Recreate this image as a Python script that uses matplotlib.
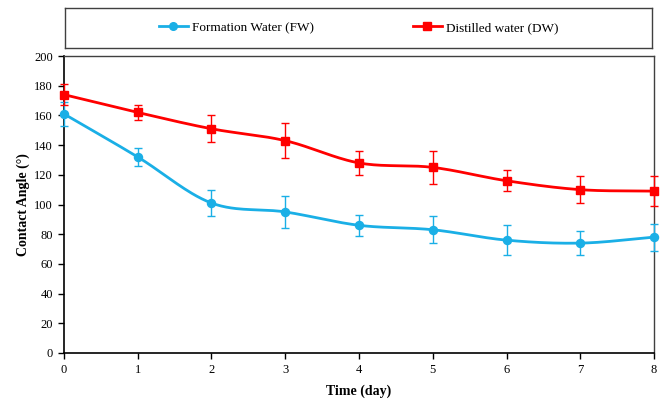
import numpy as np
import matplotlib
matplotlib.use("Agg")
import matplotlib.pyplot as plt
from matplotlib.lines import Line2D

days = [0, 1, 2, 3, 4, 5, 6, 7, 8]
fw_vals = [161, 132, 101, 95, 86, 83, 76, 74, 78]
fw_err = [8, 6, 9, 11, 7, 9, 10, 8, 9]
dw_vals = [174, 162, 151, 143, 128, 125, 116, 110, 109]
dw_err = [7, 5, 9, 12, 8, 11, 7, 9, 10]
fw_label = "Formation Water (FW)"
dw_label = "Distilled water (DW)"
fw_color = "#1AAFE6"
dw_color = "#FF0000"

plt.rcParams['font.family'] = ['Liberation Serif', 'DejaVu Serif']


def smooth(x, y, n=30):
    # Catmull-Rom style smoothing for display (like Excel smoothed line)
    x = np.asarray(x, float); y = np.asarray(y, float)
    px = np.concatenate([[2*x[0]-x[1]], x, [2*x[-1]-x[-2]]])
    py = np.concatenate([[2*y[0]-y[1]], y, [2*y[-1]-y[-2]]])
    xs, ys = [], []
    t = np.linspace(0, 1, n, endpoint=False)
    for i in range(1, len(px)-2):
        for arr, out in ((px, xs), (py, ys)):
            p0, p1, p2, p3 = arr[i-1], arr[i], arr[i+1], arr[i+2]
            out.extend(0.5*((2*p1) + (-p0+p2)*t + (2*p0-5*p1+4*p2-p3)*t**2 + (-p0+3*p1-3*p2+p3)*t**3))
    xs.append(x[-1]); ys.append(y[-1])
    return np.array(xs), np.array(ys)


fig = plt.figure(figsize=(6.65, 3.99), dpi=100)
ax = fig.add_axes([0.0962, 0.1153, 0.8873, 0.7443])

for vals, err, col, mk in ((fw_vals, fw_err, fw_color, 'o'), (dw_vals, dw_err, dw_color, 's')):
    sx, sy = smooth(days, vals)
    ax.plot(sx, sy, color=col, lw=2, zorder=3, clip_on=False)
    ax.errorbar(days, vals, yerr=err, fmt=mk, color=col, ms=5.8, ecolor=col,
                elinewidth=1, capsize=3, capthick=1, zorder=4, clip_on=False)

ax.set_xlim(0, 8)
ax.set_ylim(0, 200)
ax.set_xticks(days)
ax.set_yticks(np.arange(0, 201, 20))
ax.tick_params(direction='out', length=4, width=1, labelsize=9, pad=4)
ax.set_xlabel("Time (day)", fontsize=10, fontweight='bold', labelpad=6)
ax.set_ylabel("Contact Angle (°)", fontsize=10, fontweight='bold', labelpad=3)
for s in ('left', 'bottom'):
    ax.spines[s].set_color('black')
    ax.spines[s].set_linewidth(1.2)
for s in ('top', 'right'):
    ax.spines[s].set_color('#404040')
    ax.spines[s].set_linewidth(1)

handles = [Line2D([], [], color=fw_color, lw=2, marker='o', ms=5.5),
           Line2D([], [], color=dw_color, lw=2, marker='s', ms=5.5)]
leg_ax = fig.add_axes([0.0977, 0.8797, 0.8827, 0.1003])
leg_ax.set_xticks([]); leg_ax.set_yticks([])
for s in leg_ax.spines.values():
    s.set_color('#404040'); s.set_linewidth(1)
leg_ax.legend(handles, [fw_label, dw_label], loc='center', ncol=2, frameon=False,
              fontsize=9.5, handlelength=2.2, handletextpad=0.3, columnspacing=7.5)

fig.savefig("out.png", dpi=100)
